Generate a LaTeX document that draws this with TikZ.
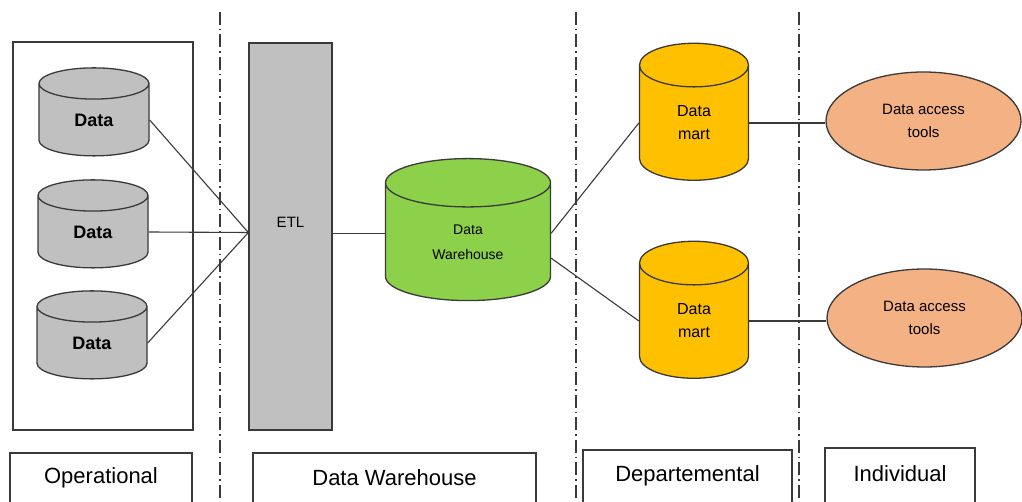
\documentclass[tikz,border=0pt]{standalone}
\usepackage{fontspec}
\setmainfont{Liberation Sans}
\usetikzlibrary{shapes.geometric}

\definecolor{dbgray}{HTML}{C0C0C0}
\definecolor{dwgreen}{HTML}{8DD04A}
\definecolor{martyellow}{HTML}{FFC000}
\definecolor{toolsalmon}{HTML}{F4B183}
\definecolor{edgegray}{HTML}{3A3A3A}

\tikzset{
  db/.style={draw=edgegray, cylinder, shape border rotate=90, line width=1.3pt, inner sep=0pt},
  srcdb/.style={db, fill=dbgray, minimum width=110pt, minimum height=88pt, aspect=0.8,
    font=\fontsize{18}{20}\selectfont\bfseries},
  whdb/.style={db, fill=dwgreen, minimum width=165pt, minimum height=142pt, aspect=0.68,
    align=center, font=\fontsize{14}{25}\selectfont},
  martdb/.style={db, fill=martyellow, minimum width=109pt, minimum height=137pt, aspect=1.29,
    align=center, font=\fontsize{16}{23}\selectfont},
  toolbox/.style={draw=edgegray, ellipse, fill=toolsalmon, line width=1.3pt, minimum width=195pt,
    minimum height=98pt, inner sep=0pt, align=center, font=\fontsize{15}{23}\selectfont},
  layerbox/.style={draw=edgegray, line width=1.3pt, font=\fontsize{22}{24}\selectfont},
  divider/.style={edgegray, line width=1.2pt, dash pattern=on 13pt off 4pt on 1.5pt off 4pt},
  link/.style={edgegray, line width=1.1pt}
}

\begin{document}
\begin{tikzpicture}[x=1pt, y=-1pt]
  \clip (0,0) rectangle (1022,502);
  \fill[white] (0,0) rectangle (1022,502);

  % layer dividers
  \draw[divider] (220,12) -- (220,502);
  \draw[divider] (576,12) -- (576,502);
  \draw[divider] (799,12) -- (799,502);

  % operational sources
  \draw[edgegray, line width=1.3pt] (13,42) rectangle (193,430);
  \node[srcdb] (d1) at (94,120) {Data};
  \node[srcdb] (d2) at (93,232) {Data};
  \node[srcdb] (d3) at (92,343) {Data};

  % etl
  \node[draw=edgegray, fill=dbgray, line width=1.3pt, minimum width=83pt, minimum height=387pt,
    label={[yshift=14pt, font=\fontsize{15}{17}\selectfont]center:ETL}] (etl) at (290.5,236.5) {};

  % warehouse and marts
  \node[whdb] (dw) at (468,242) {Data\\Warehouse};
  \node[martdb] (m1) at (694,123) {Data\\mart};
  \node[martdb] (m2) at (694,321) {Data\\mart};

  % tools
  \node[toolbox] (t1) at (923.5,121) {Data access\\tools};
  \node[toolbox] (t2) at (924.5,318) {Data access\\tools};

  % layer labels
  \node[layerbox, minimum width=182pt, minimum height=60pt] (op) at (101,483) {};
  \node[font=\fontsize{22}{24}\selectfont] (opl) at (101,478) {Operational};
  \node[layerbox, minimum width=283pt, minimum height=60pt] (wh) at (394.5,483) {};
  \node[font=\fontsize{22}{24}\selectfont] (whl) at (394.5,478) {Data Warehouse};
  \node[layerbox, minimum width=209pt, minimum height=60pt] (dep) at (687.5,480) {};
  \node[font=\fontsize{22}{24}\selectfont] (depl) at (687.5,476) {Departemental};
  \node[layerbox, minimum width=150pt, minimum height=60pt] (ind) at (900,478) {};
  \node[font=\fontsize{22}{24}\selectfont] (indl) at (900,474) {Individual};

  % connectors
  \draw[link] (d1.east) -- ([yshift=4pt]etl.west);
  \draw[link] (d2.east) -- ([yshift=4pt]etl.west);
  \draw[link] (d3.east) -- ([yshift=4pt]etl.west);
  \draw[link] (dw.174) -- (dw.174 -| etl.east);
  \draw[link] (dw.6) -- (m1.west);
  \draw[link] (dw.-11) -- (m2.west);
  \draw[link] (m1.east) -- (m1.east -| t1.west);
  \draw[link] (m2.east) -- (m2.east -| t2.west);
\end{tikzpicture}
\end{document}
